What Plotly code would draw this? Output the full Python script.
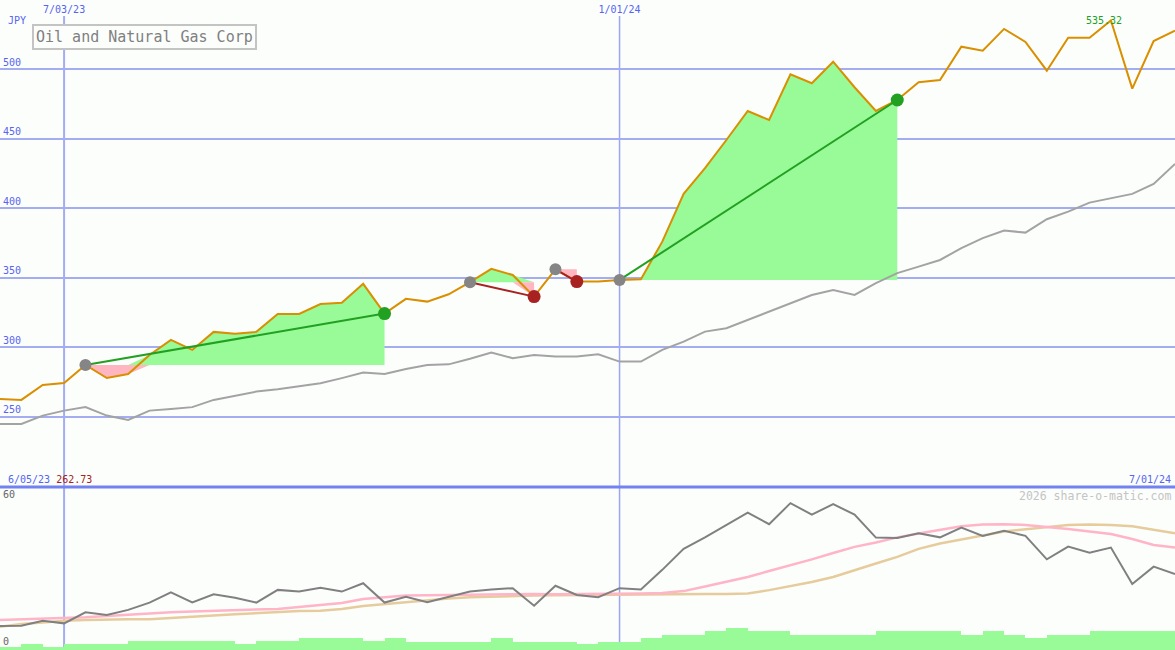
import plotly.graph_objects as go
import pandas as pd

# ---------------- data ----------------
dates = pd.date_range("2023-06-12", periods=56, freq="7D")
x_tick_dates = ["2023-07-03", "2024-01-01"]
y_ticks_top = [250, 300, 350, 400, 450, 500]
y_ticks_bottom = [0, 60]

price = [262.73, 262.0, 272.8, 274.2, 287.2, 277.8, 280.7, 294.4, 305.2, 298.0,
         311.0, 309.6, 311.0, 323.9, 323.9, 331.1, 331.9, 345.6, 324.2, 334.8,
         332.8, 338.1, 346.8, 356.4, 352.0, 336.4, 356.1, 347.2, 347.2, 348.4,
         348.9, 376.0, 410.4, 428.9, 449.2, 470.1, 463.6, 496.5, 490.1, 505.6,
         487.2, 470.1, 478.0, 490.8, 492.4, 516.4, 513.5, 529.2, 519.8, 499.1,
         522.9, 522.9, 535.32, 486.2, 520.5, 527.9]

index_line = [244.7, 244.7, 250.7, 254.3, 256.8, 250.7, 247.6, 254.3, 255.5, 256.8,
              262.0, 265.1, 268.0, 269.7, 271.6, 274.0, 277.7, 281.7, 280.7, 284.3,
              287.2, 287.6, 291.6, 296.1, 292.1, 294.4, 293.2, 293.2, 294.8, 289.6,
              289.6, 298.0, 304.0, 311.2, 313.6, 319.6, 325.6, 331.6, 337.6, 341.2,
              337.6, 346.1, 353.3, 358.0, 362.8, 371.3, 378.5, 384.0, 382.5, 392.1,
              397.6, 404.1, 407.3, 410.4, 417.6, 432.0]

osc = [9.2, 9.3, 11.4, 10.3, 14.8, 13.7, 15.8, 18.8, 23.0, 18.9,
       22.2, 20.8, 18.8, 24.0, 23.3, 24.9, 23.3, 26.7, 18.8, 21.2,
       18.9, 21.0, 23.3, 24.2, 24.7, 17.5, 25.7, 21.9, 21.0, 24.7,
       24.2, 32.2, 40.8, 45.5, 50.6, 55.6, 50.9, 59.5, 54.8, 59.1,
       54.8, 45.4, 45.2, 47.2, 45.5, 49.5, 46.1, 48.2, 46.1, 36.5,
       41.7, 39.2, 41.3, 26.4, 33.5, 30.5]

osc_fast = [11.7, 11.9, 12.1, 12.4, 12.8, 13.3, 13.9, 14.5, 14.8, 15.2,
            15.5, 15.6, 15.8, 16.2, 17.0, 17.8, 18.6, 20.3, 20.9, 21.7,
            21.8, 21.9, 22.1, 22.3, 22.3, 22.3, 22.2, 22.2, 22.2, 22.3,
            22.5, 22.7, 23.5, 25.4, 27.2, 29.3, 31.7, 34.0, 36.5, 39.1,
            41.6, 43.4, 45.5, 47.1, 48.5, 50.0, 50.8, 50.9, 50.6, 49.9,
            48.9, 47.9, 46.9, 44.8, 42.4, 41.3]

osc_slow = [8.9, 10.0, 10.6, 11.4, 11.7, 12.0, 12.0, 12.0, 12.6, 12.9,
            13.5, 14.0, 14.5, 15.0, 15.4, 15.5, 16.2, 17.4, 18.2, 19.0,
            19.7, 20.5, 21.0, 21.3, 21.5, 21.7, 21.8, 21.9, 22.1, 22.2,
            22.3, 22.3, 22.3, 22.3, 22.3, 22.5, 23.9, 25.4, 27.2, 29.3,
            32.2, 34.8, 37.5, 40.8, 43.0, 44.8, 46.3, 47.9, 48.7, 49.8,
            50.6, 50.8, 50.6, 50.0, 48.5, 47.2]

volume = [2.7, 6, 2.7, 6, 6, 6, 9.3, 9.3, 9.3, 9.3,
          9.3, 6, 9.3, 9.3, 12.3, 12.3, 12.3, 9.3, 12.3, 8.5,
          8.5, 8.5, 8.5, 11.7, 8.5, 8.5, 8.5, 5.7, 8.5, 8.5,
          11.7, 15, 15, 19, 22.3, 19, 19, 15, 15, 15,
          15, 19, 19, 19, 19, 15, 19, 15, 12.3, 15,
          15, 19, 19, 19, 19]

trade_entry = [4, 22, 26, 29]
trade_exit = [18, 25, 27, 42]

title_text = "Oil and Natural Gas Corp"
currency = "JPY"
start_label = "6/05/23"
end_label = "7/01/24"
watermark = "2026 share-o-matic.com"

# ---------------- styling ----------------
W, H = 1175, 650
def py(p):
    return (H - p) / H

MONO = "DejaVu Sans Mono"
BG = "#fcfefc"
GRID = "#a4acf2"
BLUE_TXT = "#5565f0"
ORANGE = "#d98f00"
GREEN_FILL = "#98fb98"
PINK_FILL = "#ffb6c1"
WIN = "#22a022"
LOSS = "#a82222"

fig = go.Figure()

# trade fills
for e, x in zip(trade_entry, trade_exit):
    lvl = price[e]
    xs = list(dates[e:x + 1])
    seg = price[e:x + 1]
    up = [max(p, lvl) for p in seg]
    dn = [min(p, lvl) for p in seg]
    for vals, col in ((up, GREEN_FILL), (dn, PINK_FILL)):
        fig.add_trace(go.Scatter(x=xs, y=[lvl] * len(xs), mode="lines",
                                 line=dict(width=0), hoverinfo="skip",
                                 xaxis="x", yaxis="y"))
        fig.add_trace(go.Scatter(x=xs, y=vals, mode="lines", line=dict(width=0),
                                 fill="tonexty", fillcolor=col, hoverinfo="skip",
                                 xaxis="x", yaxis="y"))

# comparison index and price
fig.add_trace(go.Scatter(x=dates, y=index_line, mode="lines",
                         line=dict(color="#a3a3a3", width=2), xaxis="x", yaxis="y"))
fig.add_trace(go.Scatter(x=dates, y=price, mode="lines",
                         line=dict(color=ORANGE, width=2), xaxis="x", yaxis="y"))

# trade lines and markers
for e, x in zip(trade_entry, trade_exit):
    col = WIN if price[x] > price[e] else LOSS
    fig.add_trace(go.Scatter(x=[dates[e], dates[x]], y=[price[e], price[x]],
                             mode="lines", line=dict(color=col, width=2),
                             xaxis="x", yaxis="y"))
for e, x in zip(trade_entry, trade_exit):
    col = WIN if price[x] > price[e] else LOSS
    fig.add_trace(go.Scatter(x=[dates[e]], y=[price[e]], mode="markers",
                             marker=dict(color="#858585", size=12,
                                         line=dict(width=0)),
                             xaxis="x", yaxis="y"))
    fig.add_trace(go.Scatter(x=[dates[x]], y=[price[x]], mode="markers",
                             marker=dict(color=col, size=13, line=dict(width=0)),
                             xaxis="x", yaxis="y"))

# bottom panel
fig.add_trace(go.Bar(x=dates[:len(volume)], y=volume, offset=0,
                     width=7 * 24 * 3600 * 1000, marker=dict(color=GREEN_FILL, line=dict(width=0)),
                     xaxis="x2", yaxis="y3"))
fig.add_trace(go.Scatter(x=dates, y=osc_slow, mode="lines",
                         line=dict(color="#e6cc9c", width=2.5), xaxis="x2", yaxis="y2"))
fig.add_trace(go.Scatter(x=dates, y=osc_fast, mode="lines",
                         line=dict(color="#ffb4c8", width=2.5), xaxis="x2", yaxis="y2"))
fig.add_trace(go.Scatter(x=dates, y=osc, mode="lines",
                         line=dict(color="#808080", width=2), xaxis="x2", yaxis="y2"))

top_dom = [py(486), py(16)]
bot_dom = [0, py(488)]

fig.update_layout(
    width=W, height=H, margin=dict(l=0, r=0, t=0, b=0),
    paper_bgcolor=BG, plot_bgcolor=BG, showlegend=False,
    bargap=0,
    xaxis=dict(type="date", range=[dates[0], dates[-1]], side="top", anchor="y",
               tickvals=x_tick_dates, tickformat="%-m/%d/%y", ticks="",
               tickfont=dict(family=MONO, size=10, color=BLUE_TXT),
               showgrid=False, zeroline=False, showline=False),
    xaxis2=dict(type="date", matches="x", anchor="y2", showticklabels=False,
                showgrid=False, zeroline=False, showline=False),
    yaxis=dict(domain=top_dom, range=[200, 538.5], tickvals=y_ticks_top,
               ticklabelposition="inside top", ticks="",
               tickfont=dict(family=MONO, size=10, color=BLUE_TXT),
               showgrid=True, gridcolor=GRID, gridwidth=2, zeroline=False),
    yaxis2=dict(domain=bot_dom, range=[-0.61, 65.7], tickvals=y_ticks_bottom,
                ticklabelposition="inside top", ticks="",
                tickfont=dict(family=MONO, size=10, color="#666666"),
                showgrid=False, zeroline=False),
    yaxis3=dict(overlaying="y2", range=[0, 162], visible=False),
)

shapes = []
for d, w, c in zip(x_tick_dates, [2, 1.5], [GRID, "#9ca6f4"]):
    shapes.append(dict(type="line", xref="x", yref="paper", x0=d, x1=d,
                       y0=0, y1=top_dom[1], line=dict(color=c, width=w),
                       layer="below"))
shapes.append(dict(type="line", xref="paper", yref="paper", x0=0, x1=1,
                   y0=py(487), y1=py(487), line=dict(color="#7282f0", width=3)))
fig.update_layout(shapes=shapes)

imax = price.index(max(price))
ann = [
    dict(text=currency, xref="paper", yref="paper", x=6 / W, y=py(20),
         xanchor="left", yanchor="middle", showarrow=False,
         font=dict(family=MONO, size=10, color=BLUE_TXT)),
    dict(text=title_text, xref="paper", yref="paper", x=32 / W, y=py(24),
         xanchor="left", yanchor="top", showarrow=False,
         bordercolor="#c4c4c4", borderwidth=2, borderpad=2, bgcolor=BG,
         font=dict(family=MONO, size=15, color="#808080")),
    dict(text=f"{price[imax]:.2f}", x=dates[imax], y=price[imax], xref="x", yref="y",
         xanchor="center", yanchor="middle", xshift=-7, showarrow=False,
         font=dict(family=MONO, size=10, color=WIN)),
    dict(text=f"<span style='color:{BLUE_TXT}'>{start_label}</span> "
              f"<span style='color:{LOSS}'>{price[0]:.2f}</span>",
         xref="paper", yref="paper", x=6 / W, y=py(479), xanchor="left",
         yanchor="middle", showarrow=False, font=dict(family=MONO, size=10)),
    dict(text=end_label, xref="paper", yref="paper", x=1173 / W, y=py(479),
         xanchor="right", yanchor="middle", showarrow=False,
         font=dict(family=MONO, size=10, color=BLUE_TXT)),
    dict(text=watermark, xref="paper", yref="paper", x=1173 / W, y=py(496),
         xanchor="right", yanchor="middle", showarrow=False,
         font=dict(family=MONO, size=11.5, color="#c4c4c4")),
]
fig.update_layout(annotations=ann)

fig.write_html("out.html", config={"displayModeBar": False},
               post_script="document.body.style.margin='0';document.body.style.padding='0';")
